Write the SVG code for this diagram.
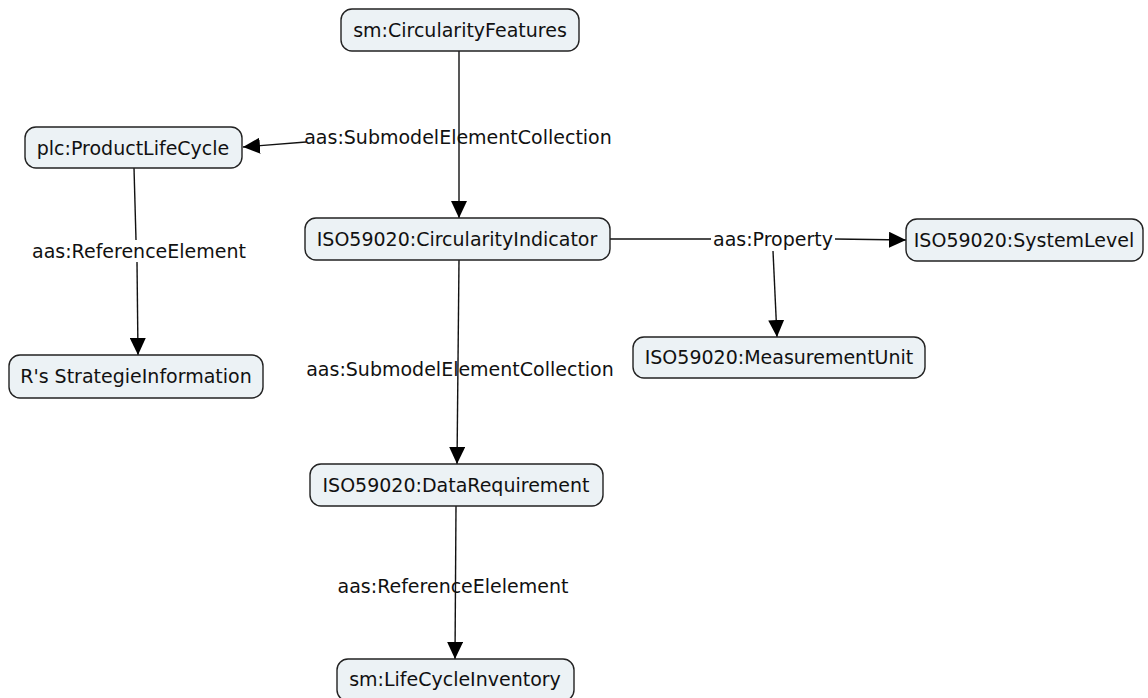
<svg xmlns="http://www.w3.org/2000/svg" width="1148" height="698" viewBox="0 0 1148 698">
<defs>
<style>
.node rect{fill:#ecf2f5;stroke:#222;stroke-width:1.4}
.node text,.lbl{font-family:"DejaVu Sans",Verdana,sans-serif;font-size:19px;fill:#111;text-anchor:middle;dominant-baseline:central}
.edge{stroke:#111;stroke-width:1.4;fill:none}
</style>
<marker id="arr" viewBox="0 0 17 16" refX="17" refY="8" markerWidth="17" markerHeight="16" markerUnits="userSpaceOnUse" orient="auto">
<path d="M0,0 L17,8 L0,16 Z" fill="#000"/>
</marker>
</defs>
<rect width="1148" height="698" fill="#fff"/>
<g id="connectors">
<path class="edge" d="M459,50 L459,218" marker-end="url(#arr)"/>
<path class="edge" d="M306,142 L243,147" marker-end="url(#arr)"/>
<path class="edge" d="M134,168 L136,240"/>
<path class="edge" d="M137,262 L138,355" marker-end="url(#arr)"/>
<path class="edge" d="M610,239 L711,239"/>
<path class="edge" d="M835,239 L906,240" marker-end="url(#arr)"/>
<path class="edge" d="M773,251 L777,337" marker-end="url(#arr)"/>
<path class="edge" d="M459,260 L457,464" marker-end="url(#arr)"/>
<path class="edge" d="M456,506 L455,659" marker-end="url(#arr)"/>
<text class="lbl" x="139" y="251">aas:ReferenceElement</text>
<text class="lbl" x="458" y="137">aas:SubmodelElementCollection</text>
<text class="lbl" x="773" y="239">aas:Property</text>
<text class="lbl" x="460" y="369">aas:SubmodelElementCollection</text>
<text class="lbl" x="453" y="586">aas:ReferenceElelement</text>
</g>
<g id="n-features" class="node"><rect x="341" y="9" width="238" height="42" rx="11"/><text x="460" y="30">sm:CircularityFeatures</text></g>
<g id="n-plc" class="node"><rect x="25" y="127" width="217" height="41" rx="11"/><text x="133" y="148">plc:ProductLifeCycle</text></g>
<g id="n-indicator" class="node"><rect x="305" y="218" width="305" height="42" rx="11"/><text x="457" y="239">ISO59020:CircularityIndicator</text></g>
<g id="n-systemlevel" class="node"><rect x="906" y="219" width="237" height="42" rx="11"/><text x="1024" y="240">ISO59020:SystemLevel</text></g>
<g id="n-unit" class="node"><rect x="633" y="337" width="292" height="41" rx="11"/><text x="779" y="357">ISO59020:MeasurementUnit</text></g>
<g id="n-strategie" class="node"><rect x="9" y="355" width="254" height="43" rx="11"/><text x="136" y="376">R's StrategieInformation</text></g>
<g id="n-datareq" class="node"><rect x="310" y="464" width="293" height="42" rx="11"/><text x="456" y="485">ISO59020:DataRequirement</text></g>
<g id="n-lci" class="node"><rect x="337" y="659" width="237" height="42" rx="11"/><text x="455" y="679">sm:LifeCycleInventory</text></g>
</svg>
